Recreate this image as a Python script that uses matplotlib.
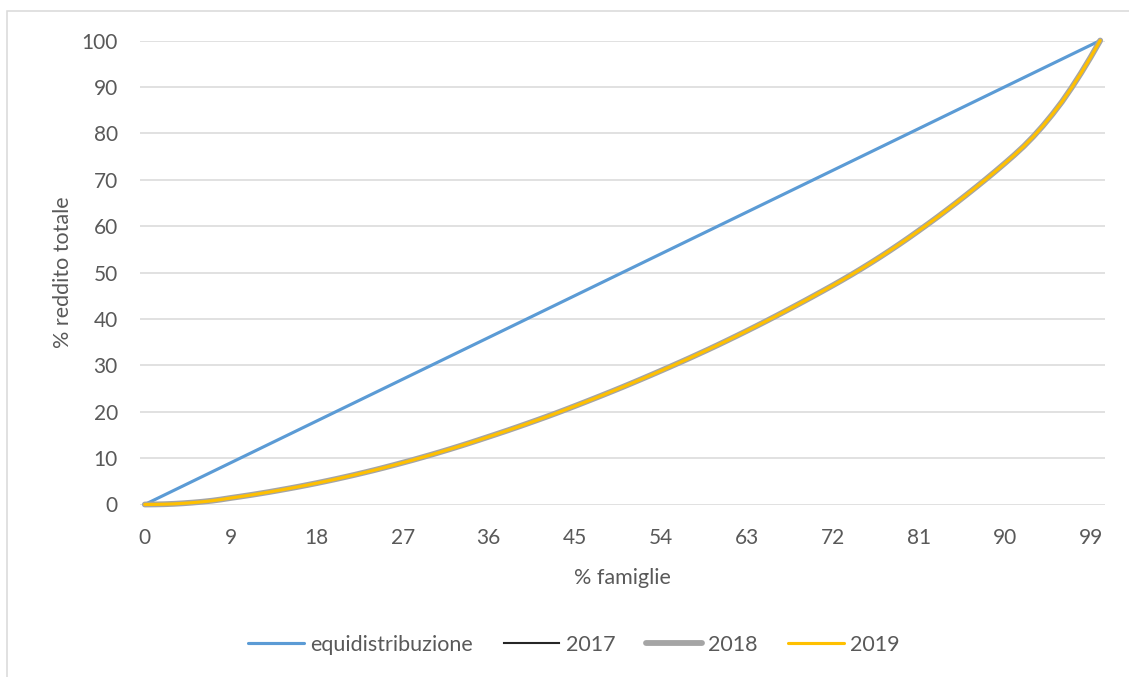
import matplotlib.pyplot as plt
from matplotlib.patches import Rectangle

# % famiglie (categories 0..100)
pct_famiglie = list(range(0, 101))

# equidistribution line: income share equal to population share
equidistribuzione = list(range(0, 101))

# Lorenz curves (% reddito totale)
reddito_2019 = [
    0.0, 0.02, 0.06, 0.13, 0.25, 0.4, 0.58, 0.8, 1.08, 1.4,
    1.7, 2.01, 2.34, 2.68, 3.04, 3.41, 3.79, 4.19, 4.6, 5.03,
    5.47, 5.93, 6.4, 6.89, 7.39, 7.91, 8.45, 9.0, 9.56, 10.14,
    10.73, 11.34, 11.96, 12.6, 13.25, 13.92, 14.6, 15.28, 15.97, 16.68,
    17.4, 18.13, 18.87, 19.63, 20.41, 21.2, 22.0, 22.81, 23.63, 24.46,
    25.3, 26.16, 27.03, 27.91, 28.8, 29.7, 30.61, 31.53, 32.47, 33.42,
    34.39, 35.38, 36.38, 37.4, 38.43, 39.48, 40.54, 41.62, 42.71, 43.81,
    44.93, 46.06, 47.2, 48.37, 49.57, 50.81, 52.08, 53.39, 54.74, 56.12,
    57.54, 59.0, 60.48, 61.99, 63.54, 65.12, 66.73, 68.37, 70.04, 71.75,
    73.5, 75.3, 77.2, 79.3, 81.6, 84.1, 86.8, 89.8, 93.0, 96.4,
    100.0,
]
reddito_2018 = [
    0.0, 0.02, 0.06, 0.14, 0.26, 0.41, 0.59, 0.81, 1.09, 1.41,
    1.71, 2.02, 2.35, 2.69, 3.05, 3.42, 3.8, 4.2, 4.61, 5.04,
    5.48, 5.94, 6.41, 6.9, 7.4, 7.92, 8.46, 9.01, 9.57, 10.15,
    10.74, 11.35, 11.97, 12.61, 13.26, 13.93, 14.61, 15.29, 15.98, 16.69,
    17.41, 18.14, 18.88, 19.64, 20.42, 21.21, 22.01, 22.82, 23.64, 24.47,
    25.31, 26.17, 27.04, 27.92, 28.81, 29.71, 30.62, 31.54, 32.48, 33.43,
    34.4, 35.39, 36.39, 37.41, 38.44, 39.49, 40.55, 41.63, 42.72, 43.82,
    44.94, 46.07, 47.21, 48.38, 49.58, 50.82, 52.09, 53.4, 54.75, 56.13,
    57.55, 59.01, 60.49, 62.0, 63.55, 65.13, 66.74, 68.38, 70.05, 71.76,
    73.51, 75.31, 77.21, 79.31, 81.61, 84.11, 86.81, 89.81, 93.01, 96.41,
    100.0,
]
reddito_2017 = [
    0.0, 0.02, 0.06, 0.13, 0.25, 0.39, 0.57, 0.79, 1.07, 1.39,
    1.69, 2.0, 2.33, 2.67, 3.03, 3.4, 3.78, 4.18, 4.59, 5.02,
    5.46, 5.92, 6.39, 6.88, 7.38, 7.9, 8.44, 8.99, 9.55, 10.13,
    10.72, 11.33, 11.95, 12.59, 13.24, 13.91, 14.59, 15.27, 15.96, 16.67,
    17.39, 18.12, 18.86, 19.62, 20.4, 21.19, 21.99, 22.8, 23.62, 24.45,
    25.29, 26.15, 27.02, 27.9, 28.79, 29.69, 30.6, 31.52, 32.46, 33.41,
    34.38, 35.37, 36.37, 37.39, 38.42, 39.47, 40.53, 41.61, 42.7, 43.8,
    44.92, 46.05, 47.19, 48.36, 49.56, 50.8, 52.07, 53.38, 54.73, 56.11,
    57.53, 58.99, 60.47, 61.98, 63.53, 65.11, 66.72, 68.36, 70.03, 71.74,
    73.49, 75.29, 77.19, 79.29, 81.59, 84.09, 86.79, 89.79, 92.99, 96.39,
    100.0,
]

x_ticks = [0, 9, 18, 27, 36, 45, 54, 63, 72, 81, 90, 99]
y_ticks = [0, 10, 20, 30, 40, 50, 60, 70, 80, 90, 100]

plt.rcParams['font.family'] = ['Lato', 'DejaVu Sans']
plt.rcParams['font.size'] = 15

fig = plt.figure(figsize=(11.29, 6.77), dpi=100)
ax = fig.add_axes([140 / 1129, 1 - 504.5 / 677, 965 / 1129, 464 / 677])

ax.plot(pct_famiglie, equidistribuzione, color='#5b9bd5', lw=2.25,
        label='equidistribuzione', clip_on=False, zorder=3, solid_capstyle='round')
ax.plot(pct_famiglie, reddito_2017, color='#262626', lw=1.5,
        label='2017', clip_on=False, zorder=4)
ax.plot(pct_famiglie, reddito_2018, color='#a5a5a5', lw=4.2,
        label='2018', clip_on=False, zorder=5, solid_capstyle='round')
ax.plot(pct_famiglie, reddito_2019, color='#ffc000', lw=2.25,
        label='2019', clip_on=False, zorder=6, solid_capstyle='round')

ax.set_xlim(-0.5, 100.5)
ax.set_ylim(0, 100)
ax.set_xticks(x_ticks)
ax.set_yticks(y_ticks)
ax.tick_params(axis='both', length=0, colors='#595959', labelsize=15)
ax.tick_params(axis='x', pad=17)
ax.tick_params(axis='y', pad=16)
ax.grid(axis='y', color='#d9d9d9', lw=1.1)
ax.set_axisbelow(True)
for s in ax.spines.values():
    s.set_visible(False)

ax.set_xlabel('% famiglie', color='#595959', fontsize=15.5, labelpad=14)
ax.set_ylabel('% reddito totale', color='#595959', fontsize=15.5, labelpad=6)

leg = fig.legend(loc='center', bbox_to_anchor=(574 / 1129, 1 - 645 / 677),
                 ncol=4, frameon=False, fontsize=15.5, handlelength=2.6,
                 handletextpad=0.3, columnspacing=1.4)
for t in leg.get_texts():
    t.set_color('#595959')

# chart area border (cut at right and bottom in the original)
fig.patches.append(Rectangle((6.5 / 1129, -0.1), 1.2, 1.1 - 10.5 / 677,
                             transform=fig.transFigure, fill=False,
                             edgecolor='#d9d9d9', lw=1.1))

fig.savefig('out.png', dpi=100)
